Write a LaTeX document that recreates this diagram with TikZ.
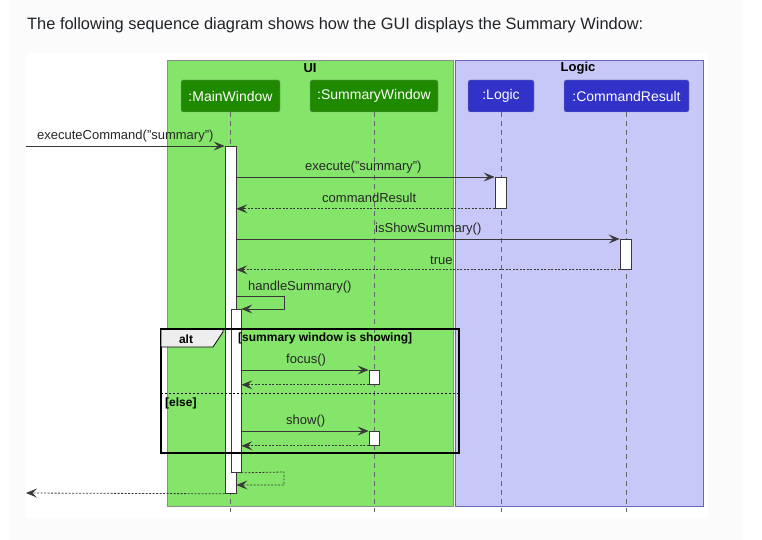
\documentclass[tikz,border=0pt]{standalone}
\usepackage{fontspec}
\setmainfont{Liberation Sans}
\usetikzlibrary{arrows.meta}
\definecolor{uigreen}{HTML}{84E56A}
\definecolor{logicblue}{HTML}{C8C8F8}
\definecolor{partgreen}{HTML}{1F8A00}
\definecolor{partblue}{HTML}{3232C8}
\definecolor{tabgray}{HTML}{EEEEEE}
\definecolor{linegray}{HTML}{383838}
\definecolor{pagebg}{HTML}{FBFBFB}
\definecolor{txt}{HTML}{1F2328}
\tikzset{
  part/.style={draw=black!40, rounded corners=2pt, text=white, minimum height=32pt, inner sep=0pt, font=\fontsize{14}{16}\selectfont},
  life/.style={draw=black!60, dash pattern=on 5pt off 4pt, line width=0.6pt},
  act/.style={draw=linegray, fill=white, line width=0.8pt, inner sep=0pt, anchor=north},
  msg/.style={draw=linegray, line width=0.8pt, -{Stealth[length=11pt,width=9pt,inset=4.5pt]}},
  ret/.style={msg, dash pattern=on 2pt off 1.5pt},
  lbl/.style={anchor=west, inner sep=0pt, text=black!85, font=\fontsize{13}{15}\selectfont},
  grp/.style={font=\bfseries\fontsize{13}{15}\selectfont, inner sep=0pt}
}
\begin{document}
\begin{tikzpicture}[x=1pt,y=-1pt]
\useasboundingbox (0,0) rectangle (762,540);
\fill[pagebg] (10,0) rectangle (742,540);
\fill[white] (26,53) rectangle (708,518);
\node[anchor=base west, inner sep=0pt, text=txt, font=\fontsize{16.4}{19}\selectfont] (title) at (27,30) {The following sequence diagram shows how the GUI displays the Summary Window:};

% groups
\draw[draw=black!45, fill=uigreen] (167,60) rectangle (453,506);
\draw[draw=black!45!blue!60, fill=logicblue] (455,60) rectangle (703,506);
\node[grp] (uil) at (310,68) {UI};
\node[grp] (lgl) at (578,68) {Logic};

% participants
\node[part, fill=partgreen, minimum width=99pt] (mw) at (230.5,96) {:MainWindow};
\node[part, fill=partgreen, minimum width=128pt] (sw) at (374,96) {:SummaryWindow};
\node[part, fill=partblue, minimum width=66pt] (lg) at (501,96) {:Logic};
\node[part, fill=partblue, minimum width=125pt] (cr) at (626.5,96) {:CommandResult};

% lifelines
\foreach \p in {mw,sw,lg,cr} \draw[life] (\p.south) -- ++(0,400);

% activations
\node[act, minimum width=11pt, minimum height=347pt] (a1) at (230.5,146) {};
\node[act, minimum width=10pt, minimum height=163pt] (a2) at (236,309) {};
\node[act, minimum width=11pt, minimum height=31pt] (al) at (500.5,177) {};
\node[act, minimum width=11pt, minimum height=30pt] (ac) at (625.5,239) {};

% alt frame
\draw[line width=1.6pt] (161,329) rectangle (459,453);
\filldraw[fill=tabgray, draw=black, line width=0.8pt] (161,329) -- (223,329) -- (223,332) -- (213,347) -- (161,347) -- cycle;
\draw[line width=1.6pt] (161,329) -- (459,329);
\node[grp, font=\bfseries\fontsize{12}{14}\selectfont] (altl) at (186,339) {alt};
\node[grp, anchor=west, font=\bfseries\fontsize{12}{14}\selectfont] (g1) at (238,338) {[summary window is showing]};
\draw[dash pattern=on 2pt off 2pt, line width=0.6pt] (161,393) -- (459,393);
\node[grp, anchor=west, font=\bfseries\fontsize{12}{14}\selectfont] (g2) at (165,403) {[else]};

\node[act, minimum width=10pt, minimum height=14pt] (sf) at (374,370) {};
\node[act, minimum width=10pt, minimum height=14pt] (ss) at (374,431) {};

% messages
\coordinate (in) at (26,146);
\coordinate (out) at (26,493);
\draw[msg] (in) -- (a1.north west);
\node[lbl] at (37,136) {executeCommand("summary")};

\draw[msg] (a1.east |- al.north) -- (al.north west);
\node[lbl] at (305,167) {execute("summary")};
\draw[ret] (al.south west) -- (a1.east |- al.south);
\node[lbl] at (322,198) {commandResult};

\draw[msg] (a1.east |- ac.north) -- (ac.north west);
\node[lbl] at (375,229) {isShowSummary()};
\draw[ret] (ac.south west) -- (a1.east |- ac.south);
\node[lbl] at (430,260) {true};

\draw[msg] (a1.east |- 0,296) -- (284,296) -- (284,309) -- (a2.north east);
\node[lbl] at (248,287) {handleSummary()};

\draw[msg] (a2.east |- sf.north) -- (sf.north west);
\node[lbl] at (286,360) {focus()};
\draw[ret] (sf.south west) -- (a2.east |- sf.south);

\draw[msg] (a2.east |- ss.north) -- (ss.north west);
\node[lbl] at (286,421) {show()};
\draw[ret] (ss.south west) -- (a2.east |- ss.south);

\draw[ret] (a2.south east) -- (284,472) -- (284,485) -- (a1.east |- 0,485);
\draw[ret] (a1.south west) -- (out);
\end{tikzpicture}
\end{document}
